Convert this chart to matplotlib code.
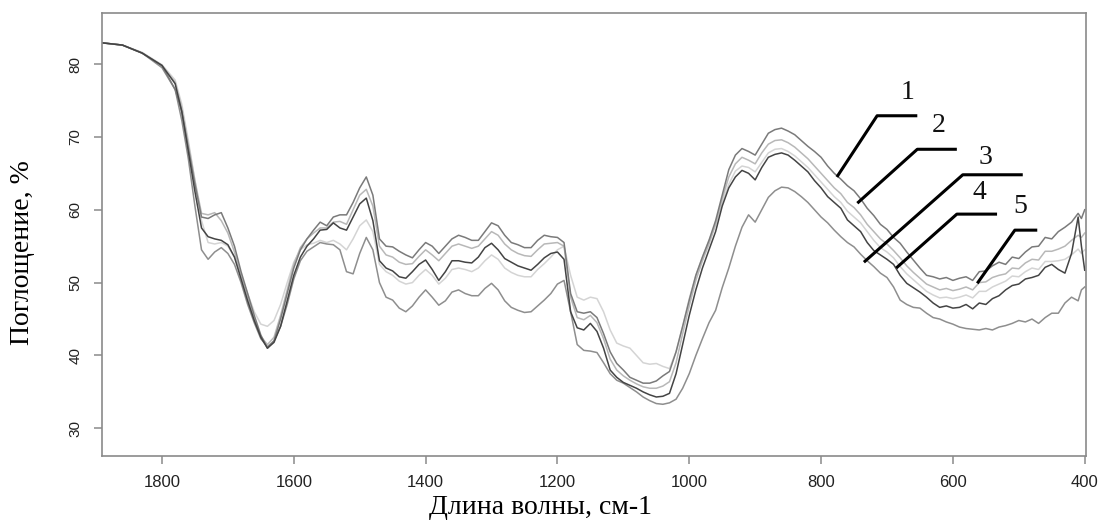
import matplotlib
matplotlib.use("Agg")
import matplotlib.pyplot as plt

# wavenumber grid, cm-1 (same for all five spectra)
wn = [1890, 1860, 1830, 1800,
      1780, 1770, 1760, 1750, 1740, 1730, 1720, 1710, 1700, 1690,
      1680, 1670, 1660, 1650, 1640, 1630, 1620, 1610, 1600, 1590,
      1580, 1570, 1560, 1550, 1540, 1530, 1520, 1510, 1500, 1490,
      1480, 1470, 1460, 1450, 1440, 1430, 1420, 1410, 1400, 1390,
      1380, 1370, 1360, 1350, 1340, 1330, 1320, 1310, 1300, 1290,
      1280, 1270, 1260, 1250, 1240, 1230, 1220, 1210, 1200, 1190,
      1180, 1170, 1160, 1150, 1140, 1130, 1120, 1110, 1100, 1090,
      1080, 1070, 1060, 1050, 1040, 1030, 1020, 1010, 1000, 990,
      980, 970, 960, 950, 940, 930, 920, 910, 900, 890,
      880, 870, 860, 850, 840, 830, 820, 810, 800, 790,
      780, 770, 760, 750, 740, 730, 720, 710, 700, 690,
      680, 670, 660, 650, 640, 630, 620, 610, 600, 590,
      580, 570, 560, 550, 540, 530, 520, 510, 500, 490,
      480, 470, 460, 450, 440, 430, 420, 410, 405, 400]

spec_a = [82.9, 82.6, 81.5, 79.8,
          76.5, 73.5, 68.5, 63.5, 59.0, 58.8, 59.3, 59.6, 57.5, 55.0,
          51.5, 48.5, 45.5, 42.8, 41.0, 42.0, 45.0, 48.5, 52.0, 54.5,
          56.0, 57.2, 58.3, 57.8, 59.0, 59.3, 59.3, 61.0, 63.0, 64.5,
          62.0, 56.0, 55.0, 54.9, 54.3, 53.8, 53.4, 54.5, 55.5, 55.0,
          54.0, 55.0, 56.0, 56.5, 56.2, 55.8, 55.8, 57.0, 58.2, 57.8,
          56.5, 55.5, 55.2, 54.8, 54.8, 55.8, 56.5, 56.3, 56.2, 55.5,
          48.5, 46.0, 45.8, 46.0, 45.2, 43.0, 40.5, 38.9, 38.0, 37.0,
          36.6, 36.2, 36.2, 36.5, 37.2, 37.8, 40.5, 44.0, 47.6, 51.0,
          53.5, 55.8, 58.5, 62.0, 65.5, 67.5, 68.4, 68.0, 67.5, 69.0,
          70.5, 71.0, 71.2, 70.8, 70.3, 69.5, 68.7, 68.0, 67.2, 66.0,
          65.0, 64.2, 63.3, 62.6, 61.5, 60.2, 59.2, 58.0, 57.3, 56.2,
          55.4, 54.2, 53.1, 52.0, 51.0, 50.8, 50.5, 50.7, 50.3, 50.6,
          50.8, 50.3, 51.5, 51.6, 52.3, 52.8, 52.5, 53.5, 53.3, 54.2,
          54.9, 55.0, 56.2, 56.0, 57.0, 57.6, 58.3, 59.5, 58.8, 60.0]

spec_b = [82.9, 82.6, 81.5, 79.8,
          77.3, 73.5, 68.0, 62.5, 57.5, 56.3, 56.0, 55.8, 55.2, 53.5,
          50.5, 47.5, 44.8, 42.5, 41.0, 41.8, 44.0, 47.5, 51.0, 53.5,
          55.0, 56.0, 57.2, 57.3, 58.2, 57.5, 57.2, 59.0, 60.8, 61.6,
          58.5, 53.0, 52.0, 51.6, 50.8, 50.6, 51.5, 52.5, 53.1, 51.8,
          50.3, 51.5, 53.0, 53.0, 52.8, 52.7, 53.5, 54.8, 55.4, 54.5,
          53.3, 52.8, 52.3, 52.0, 51.7, 52.5, 53.4, 54.0, 54.2, 53.2,
          46.0, 43.8, 43.5, 44.4, 43.3, 41.0, 38.0, 37.0, 36.3, 35.9,
          35.5, 35.0, 34.6, 34.3, 34.4, 34.8, 37.5, 41.5, 45.5, 49.0,
          52.0, 54.5, 57.0, 60.5, 63.0, 64.5, 65.4, 65.0, 64.1, 65.8,
          67.2, 67.6, 67.8, 67.5, 66.8, 66.0, 65.2, 64.0, 63.0, 61.8,
          61.0, 60.2, 58.6, 57.8, 57.0, 55.5, 54.4, 53.8, 53.2, 52.5,
          51.0, 49.9, 49.3, 48.7, 48.0, 47.2, 46.6, 46.8, 46.5, 46.6,
          47.0, 46.4, 47.2, 47.0, 47.8, 48.2, 49.0, 49.6, 49.8, 50.5,
          50.7, 51.0, 52.1, 52.5, 51.8, 51.3, 54.0, 59.0, 55.0, 51.7]

spec_c = [82.9, 82.6, 81.5, 79.8,
          77.5, 74.0, 69.0, 64.0, 59.5, 59.3, 59.6, 58.5, 56.8, 54.2,
          51.0, 48.0, 45.0, 42.6, 41.5, 42.5, 45.5, 49.0, 52.5, 54.8,
          56.0, 56.8, 57.5, 57.5, 58.3, 58.4, 58.0, 60.0, 62.0, 62.8,
          60.5, 55.0, 53.8, 53.5, 52.8, 52.5, 52.6, 53.6, 54.5, 53.8,
          53.0, 54.0, 55.0, 55.3, 55.0, 54.7, 55.0, 56.0, 57.0, 56.5,
          55.3, 54.5, 54.0, 53.7, 53.6, 54.5, 55.3, 55.4, 55.5, 55.0,
          48.0, 45.2, 44.9, 45.5, 44.5, 42.3, 39.5, 38.0, 37.2, 36.6,
          36.1, 35.7, 35.5, 35.5, 35.8, 36.4, 39.0, 43.0, 46.8, 50.3,
          53.0, 55.3, 58.0, 61.5, 64.5, 66.3, 67.2, 66.8, 66.3, 67.8,
          69.0, 69.5, 69.6, 69.2, 68.6, 67.8, 67.0, 66.0, 65.0, 64.0,
          63.0, 62.2, 61.0, 60.3, 59.3, 58.0, 57.0, 56.0, 55.3, 54.4,
          53.4, 52.3, 51.4, 50.6, 49.8, 49.4, 49.0, 49.2, 48.9, 49.1,
          49.4, 49.0, 50.0, 50.1, 50.7, 51.0, 51.2, 52.0, 51.9, 52.7,
          53.2, 53.1, 54.3, 54.3, 54.6, 55.0, 55.8, 56.5, 56.2, 56.8]

spec_d = [82.9, 82.6, 81.6, 79.9,
          77.8, 74.5, 69.5, 64.0, 58.5, 55.5, 55.3, 55.5, 55.0, 53.5,
          51.0, 48.5, 46.0, 44.3, 44.0, 44.8, 47.0, 50.0, 52.8, 54.5,
          55.2, 55.4, 55.8, 55.5, 55.8, 55.3, 54.5, 56.0, 57.8, 58.6,
          57.0, 52.5, 51.5, 51.0, 50.2, 49.8, 50.0, 51.0, 51.8, 51.0,
          49.8, 50.6, 51.8, 52.0, 51.8, 51.5, 52.0, 53.0, 53.8, 53.2,
          52.0, 51.4, 51.0, 50.8, 50.8, 51.8, 52.6, 53.5, 54.5, 55.0,
          51.0, 48.0, 47.6, 48.0, 47.8, 46.0, 43.5, 41.7, 41.3, 41.0,
          40.0, 39.0, 38.8, 38.9, 38.5, 38.2, 40.5, 44.0, 47.8, 51.0,
          53.5, 55.8, 58.0, 61.0, 63.5, 65.3, 66.0, 65.8, 65.2, 66.5,
          67.8, 68.3, 68.4, 68.0, 67.4, 66.6, 65.8, 64.8, 63.8, 62.8,
          61.8, 61.0, 59.8, 59.0, 58.2, 57.0, 55.8, 54.8, 54.2, 53.4,
          52.2, 51.2, 50.4, 49.6, 48.8, 48.3, 47.9, 48.0, 47.8, 48.0,
          48.3, 47.9, 48.8, 48.8, 49.4, 49.8, 50.2, 50.9, 50.8, 51.5,
          52.0, 51.8, 52.9, 52.9, 53.0, 53.2, 53.8, 54.6, 54.0, 54.5]

spec_e = [82.9, 82.6, 81.5, 79.5,
          76.5, 72.3, 67.0, 60.5, 54.5, 53.2, 54.2, 54.8, 54.0, 52.5,
          50.0, 47.0, 44.5, 42.3, 41.2, 42.0, 44.0, 47.0, 50.5, 53.0,
          54.3, 54.9, 55.5, 55.3, 55.2, 54.5, 51.5, 51.2, 54.0, 56.2,
          54.5, 50.0, 48.0, 47.6, 46.5, 46.0, 46.8, 48.0, 49.0, 48.0,
          46.9, 47.5, 48.7, 49.0, 48.5, 48.2, 48.2, 49.2, 49.9, 49.0,
          47.5, 46.6, 46.2, 45.9, 46.0, 46.8, 47.6, 48.5, 49.8, 50.3,
          46.0, 41.5, 40.7, 40.6, 40.4, 39.0, 37.5, 36.6, 36.2, 35.6,
          35.0, 34.3, 33.8, 33.4, 33.3, 33.5, 34.0, 35.5, 37.5, 40.0,
          42.3, 44.5, 46.2, 49.3, 52.0, 55.0, 57.6, 59.3, 58.3, 60.0,
          61.7, 62.6, 63.1, 63.0, 62.5, 61.8, 61.0, 60.0, 59.0, 58.2,
          57.2, 56.3, 55.5, 54.9, 53.9, 53.0, 52.2, 51.3, 50.7, 49.4,
          47.6, 47.0, 46.6, 46.5, 45.8, 45.2, 45.0, 44.6, 44.3, 43.9,
          43.7, 43.6, 43.5, 43.7, 43.5, 43.9, 44.1, 44.4, 44.8, 44.6,
          45.0, 44.4, 45.2, 45.8, 45.8, 47.2, 48.0, 47.5, 49.0, 49.4]

x_ticks = [1800, 1600, 1400, 1200, 1000, 800, 600, 400]
y_ticks = [30, 40, 50, 60, 70, 80]

# leader lines for the curve numbers: (line points, label position)
leaders = {
    "1": ([(776, 64.5), (715, 72.9), (654, 72.9)], (669, 76.1)),
    "2": ([(745, 60.9), (654, 68.3), (594, 68.3)], (621, 71.6)),
    "3": ([(735, 52.8), (585, 64.8), (494, 64.8)], (550, 67.2)),
    "4": ([(686, 52.0), (594, 59.4), (533, 59.4)], (560, 62.4)),
    "5": ([(563, 49.9), (506, 57.2), (472, 57.2)], (498, 60.4)),
}

fig = plt.figure(figsize=(10.99, 5.25), dpi=100)
ax = fig.add_axes([0.0928, 0.1314, 0.8954, 0.8438])

# light ones first so the darker spectra sit on top
ax.plot(wn, spec_d, color="#d4d4d4", lw=1.1)
ax.plot(wn, spec_c, color="#b8b8b8", lw=1.1)
ax.plot(wn, spec_e, color="#8e8e8e", lw=1.1)
ax.plot(wn, spec_a, color="#7a7a7a", lw=1.1)
ax.plot(wn, spec_b, color="#444444", lw=1.1)

for lab, (pts, pos) in leaders.items():
    ax.plot([p[0] for p in pts], [p[1] for p in pts], color="black", lw=2.2,
            solid_capstyle="butt")
    ax.text(pos[0], pos[1], lab, fontsize=20, family="Liberation Serif",
            ha="center", va="center", color="#111111")

ax.set_xlim(1891, 398)
ax.set_ylim(26.2, 87)
ax.set_xticks(x_ticks)
ax.set_yticks(y_ticks)

for s in ax.spines.values():
    s.set_color("#8a8a8a")
    s.set_linewidth(1.2)
ax.tick_params(colors="#8a8a8a", length=6, width=1.1)
ax.tick_params(axis="x", labelsize=12, labelcolor="#222222", pad=8)
ax.tick_params(axis="y", labelsize=11, labelcolor="#222222", pad=8)
for t in ax.get_xticklabels() + ax.get_yticklabels():
    t.set_family("Liberation Sans")
for t in ax.get_yticklabels():
    t.set_rotation(90)
    t.set_va("center")

ax.set_xlabel("Длина волны, см-1", fontsize=20, family="Liberation Serif")
ax.set_ylabel("Поглощение, %", fontsize=20, family="Liberation Serif")
ax.xaxis.set_label_coords(0.446, -0.088)
ax.yaxis.set_label_coords(-0.068, 0.46)

fig.savefig("out.png", dpi=100)
